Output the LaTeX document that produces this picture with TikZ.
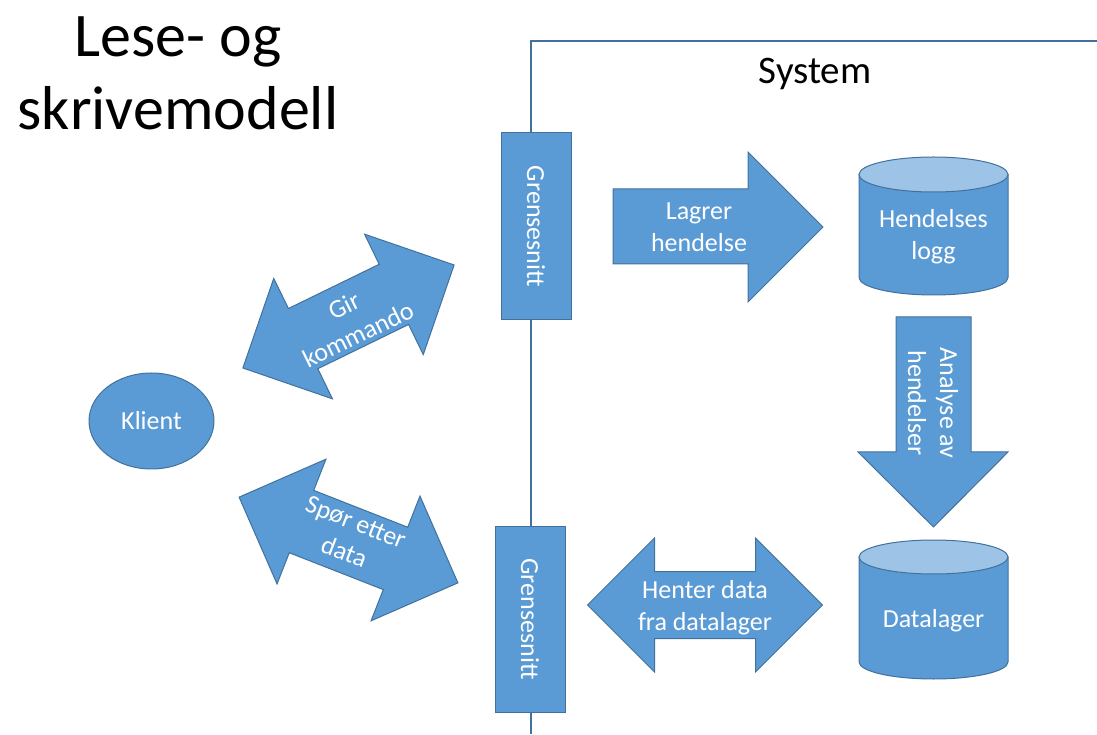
\documentclass[tikz,border=0pt]{standalone}
\usepackage{fontspec}
\setmainfont{Carlito}
\usetikzlibrary{shapes.geometric}

\definecolor{fillblue}{HTML}{5B9BD5}
\definecolor{edgeblue}{HTML}{41719C}
\definecolor{topblue}{HTML}{9DC3E6}

\tikzset{
  blockfill/.style={fill=fillblue, draw=edgeblue, line width=1pt, line join=miter},
  lbl/.style={text=white, align=center, inner sep=0pt, font=\fontsize{26}{32}\selectfont},
  sysline/.style={draw=edgeblue, line width=1.3pt},
  % double-headed block arrow, 235 long, shaft 67 wide, heads 134 wide
  dblarrow/.pic={
    \draw[blockfill] (-117.5,0) -- (-50.5,67) -- (-50.5,33.5) -- (50.5,33.5)
      -- (50.5,67) -- (117.5,0) -- (50.5,-67) -- (50.5,-33.5)
      -- (-50.5,-33.5) -- (-50.5,-67) -- cycle;
  },
}

% cylinder: centre x, top-ellipse y, bottom-ellipse y, x radius, y radius
\newcommand\drawcyl[5]{%
  \draw[blockfill] (#1-#4,#2) -- (#1-#4,#3)
    arc[start angle=180, end angle=360, x radius=#4, y radius=#5]
    -- (#1+#4,#2) -- cycle;
  \draw[blockfill, fill=topblue] (#1,#2) ellipse[x radius=#4, y radius=#5];
}

\begin{document}
\begin{tikzpicture}[x=1pt,y=1pt]
\useasboundingbox (0,0) rectangle (1097,734);

% title
\node[align=center, inner sep=0pt, font=\fontsize{62}{73}\selectfont] (title)
  at (178,661) {Lese- og\\skrivemodell};

% system boundary
\coordinate (sysbottom) at (531,0);
\coordinate (syscorner) at (531,693);
\coordinate (sysright) at (1097,693);
\draw[sysline] (sysbottom) -- (syscorner) -- (sysright);
\node[anchor=base, inner sep=0pt, font=\fontsize{39}{46}\selectfont] (system)
  at (815,650) {System};

% interfaces on the boundary
\node[blockfill, lbl, rotate=-90, minimum width=187pt, minimum height=70pt]
  (gs1) at (536,507.5) {Grensesnitt};
\node[blockfill, lbl, rotate=-90, minimum width=186pt, minimum height=70pt]
  (gs2) at (530,115) {Grensesnitt};

% client
\node[blockfill, lbl, ellipse, minimum width=125pt, minimum height=96pt]
  (klient) at (151.5,313) {Klient};

% client <-> interfaces
\pic[rotate=26] at (348.5,417.5) {dblarrow};
\node[lbl, rotate=26] (gir) at (351,414) {Gir\\kommando};
\pic[rotate=-21.4] at (348.5,194) {dblarrow};
\node[lbl, rotate=-21.4] (spor) at (350,197) {Spør etter\\data};

% store event
\draw[blockfill] (613,545) -- (748,545) -- (748,582) -- (823,507)
  -- (748,432) -- (748,470) -- (613,470) -- cycle;
\node[lbl] (lagrer) at (699,507) {Lagrer\\hendelse};

% event log
\drawcyl{933.5}{559.5}{456.5}{74.5}{17.5}
\node[lbl] (hlogg) at (933.5,497) {Hendelses\\logg};

% analyse events
\draw[blockfill] (896,417) -- (971,417) -- (971,282) -- (1008,282)
  -- (933.5,207) -- (858,282) -- (896,282) -- cycle;
\node[lbl, rotate=-90] (analyse) at (933,331) {Analyse av\\hendelser};

% data store
\drawcyl{933.5}{177}{72}{74.5}{17}
\node[lbl] (datalager) at (933.5,113) {Datalager};

% fetch data
\pic at (705,129) {dblarrow};
\node[lbl] (henter) at (705,126) {Henter data\\fra datalager};
\end{tikzpicture}
\end{document}
